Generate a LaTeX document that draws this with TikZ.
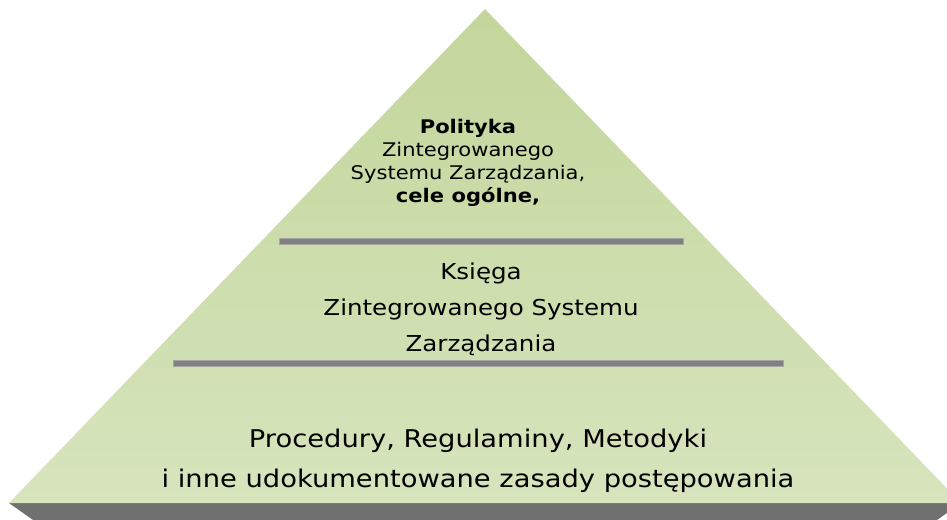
\documentclass[tikz,border=0pt]{standalone}
\usepackage{fontspec}
\setmainfont{DejaVu Sans}[FakeStretch=1.12]
\definecolor{pyrTop}{HTML}{C3D69B}
\definecolor{pyrBottom}{HTML}{D7E4BD}
\definecolor{baseGray}{HTML}{707070}
\definecolor{barGray}{HTML}{808080}
\tikzset{
  levelbar/.style={fill=barGray, draw=barGray!70},
  leveltext/.style={align=center, inner sep=0pt}
}

\begin{document}
\begin{tikzpicture}[x=1pt,y=-1pt]
		%%%%% START %%%%%
		\useasboundingbox (0, 0) rectangle (947, 519);
		\clip (0, 0) rectangle (947, 519);
		
		% base
		\fill[baseGray] (9, 503) -- (961, 503) -- (937, 520) -- (33, 520) -- cycle;
		
		% pyramid
		\shade[top color=pyrTop, bottom color=pyrBottom] (485, 9) -- (961, 503) -- (9, 503) -- cycle;
		
		% level bars
		\draw[levelbar] (279, 238.5) rectangle (683, 244);
		\draw[levelbar] (173, 360.5) rectangle (783, 366);
		
		% texts
		\node[leveltext, font=\fontsize{18.8}{23}\selectfont] (polityka) at (468, 163)
			{\textbf{Polityka}\\Zintegrowanego\\Systemu Zarządzania,\\\textbf{cele ogólne,}};
		\node[leveltext, font=\fontsize{21.9}{36}\selectfont] (ksiega) at (481, 309)
			{Księga\\Zintegrowanego Systemu\\Zarządzania};
		\node[leveltext, font=\fontsize{24.4}{40}\selectfont] (procedury) at (478, 460.5)
			{Procedury, Regulaminy, Metodyki\\i inne udokumentowane zasady postępowania};
		
		%%%%% END %%%%%
\end{tikzpicture}
\end{document}
